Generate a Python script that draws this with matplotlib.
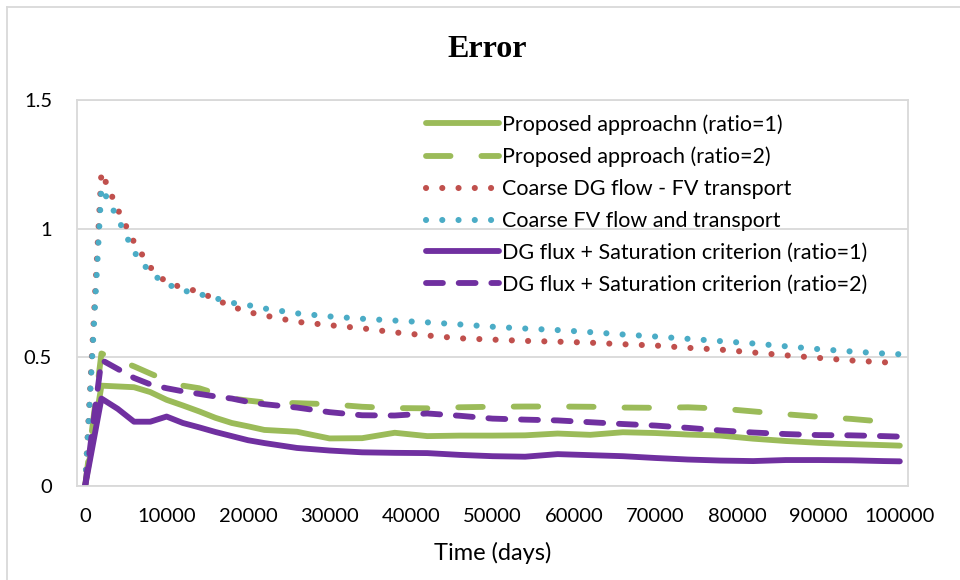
import matplotlib
matplotlib.use('Agg')
import matplotlib.pyplot as plt
from matplotlib.lines import Line2D

# time grid (days)
days = [0, 2000, 4000, 6000, 8000, 10000, 12000, 14000, 16000, 18000, 20000,
        22000, 26000, 30000, 34000, 38000, 42000, 46000, 50000, 54000, 58000,
        62000, 66000, 70000, 74000, 78000, 82000, 86000, 90000, 94000, 98000, 100000]

proposed_r1 = [0, 0.39, 0.387, 0.384, 0.365, 0.335, 0.313, 0.29, 0.265, 0.245, 0.232,
               0.218, 0.211, 0.185, 0.186, 0.207, 0.194, 0.196, 0.196, 0.197, 0.204,
               0.199, 0.209, 0.206, 0.2, 0.196, 0.184, 0.175, 0.168, 0.163, 0.159, 0.157]
proposed_r2 = [0, 0.515, 0.49, 0.465, 0.437, 0.41, 0.39, 0.38, 0.36, 0.34, 0.332,
               0.325, 0.322, 0.318, 0.308, 0.303, 0.302, 0.306, 0.308, 0.309, 0.309,
               0.308, 0.305, 0.304, 0.306, 0.301, 0.29, 0.279, 0.269, 0.261, 0.25, 0.247]
coarse_dg_fv = [0, 1.22, 1.075, 0.948, 0.85, 0.79, 0.771, 0.755, 0.725, 0.698, 0.676,
                0.663, 0.638, 0.625, 0.613, 0.597, 0.585, 0.574, 0.569, 0.564, 0.561,
                0.557, 0.551, 0.546, 0.537, 0.53, 0.519, 0.508, 0.498, 0.488, 0.481, 0.478]
coarse_fv_fv = [0, 1.16, 1.04, 0.91, 0.828, 0.785, 0.76, 0.746, 0.73, 0.712, 0.703,
                0.69, 0.671, 0.659, 0.65, 0.643, 0.636, 0.628, 0.619, 0.612, 0.606,
                0.598, 0.589, 0.581, 0.572, 0.563, 0.554, 0.543, 0.532, 0.523, 0.515, 0.512]
dgflux_r1 = [0, 0.34, 0.30, 0.25, 0.25, 0.27, 0.245, 0.228, 0.21, 0.194, 0.178,
             0.167, 0.148, 0.138, 0.131, 0.129, 0.128, 0.121, 0.116, 0.114, 0.124,
             0.12, 0.116, 0.109, 0.103, 0.099, 0.097, 0.101, 0.101, 0.1, 0.097, 0.096]
dgflux_r2 = [0, 0.49, 0.455, 0.42, 0.395, 0.38, 0.368, 0.358, 0.348, 0.34, 0.327,
             0.318, 0.305, 0.287, 0.275, 0.274, 0.282, 0.273, 0.262, 0.258, 0.255,
             0.248, 0.241, 0.235, 0.226, 0.216, 0.208, 0.202, 0.198, 0.197, 0.194, 0.192]

labels = ['Proposed approachn (ratio=1)', 'Proposed approach (ratio=2)',
          'Coarse DG flow - FV transport', 'Coarse FV flow and transport',
          'DG flux + Saturation criterion (ratio=1)', 'DG flux + Saturation criterion (ratio=2)']

green = '#9BBB59'
red = '#C0504D'
blue = '#4BACC6'
purple = '#7030A0'

plt.rcParams['font.family'] = ['Lato', 'DejaVu Sans']

fig = plt.figure(figsize=(9.6, 5.8), dpi=100)
ax = fig.add_axes([0.0802, 0.162, 0.8656, 0.6656])

lw = 4.2
dlw = 4.4
dot = (0, (0.01, 2.65))
ax.plot(days, proposed_r1, color=green, lw=lw, solid_capstyle='round', label=labels[0])
ax.plot(days, proposed_r2, color=green, lw=lw, linestyle=(0, (4.2, 5.3)), dash_capstyle='round', label=labels[1])
ax.plot(days, coarse_dg_fv, color=red, lw=dlw, linestyle=dot, dash_capstyle='round', label=labels[2])
ax.plot(days, coarse_fv_fv, color=blue, lw=dlw, linestyle=dot, dash_capstyle='round', label=labels[3])
ax.plot(days, dgflux_r1, color=purple, lw=lw, solid_capstyle='round', label=labels[4])
ax.plot(days, dgflux_r2, color=purple, lw=lw, linestyle=(0, (2.9, 2.7)), dash_capstyle='round', label=labels[5])

ax.set_xlim(-1000, 101000)
ax.set_ylim(0, 1.5)
ax.set_xticks(range(0, 100001, 10000))
ax.set_yticks([0, 0.5, 1, 1.5])
ax.set_yticklabels(['0', '0.5', '1', '1.5'])
ax.tick_params(axis='both', length=0, labelsize=14.5, colors='black')
ax.tick_params(axis='x', pad=16)
ax.tick_params(axis='y', pad=18)
ax.grid(axis='y', color='#D9D9D9', lw=1.3)
ax.set_axisbelow(True)
for s in ax.spines.values():
    s.set_color('#D9D9D9')
    s.set_linewidth(1.3)

ax.set_xlabel('Time (days)', fontsize=17, labelpad=12)
fig.text(0.508, 0.915, 'Error', fontsize=23, fontweight='bold',
         family='Liberation Serif', ha='center', va='center')

leg = ax.legend(loc='upper left', bbox_to_anchor=(0.41, 0.985), frameon=False,
                fontsize=15.5, handlelength=3.4, handletextpad=0.1,
                labelspacing=0.55, borderaxespad=0)

# outer chart border (left and top edges visible)
fig.add_artist(Line2D([7 / 960, 7 / 960], [0, 1 - 7 / 580], transform=fig.transFigure, color='#D9D9D9', lw=1.3))
fig.add_artist(Line2D([7 / 960, 1], [1 - 7 / 580, 1 - 7 / 580], transform=fig.transFigure, color='#D9D9D9', lw=1.3))

fig.savefig('out.png', dpi=100)
